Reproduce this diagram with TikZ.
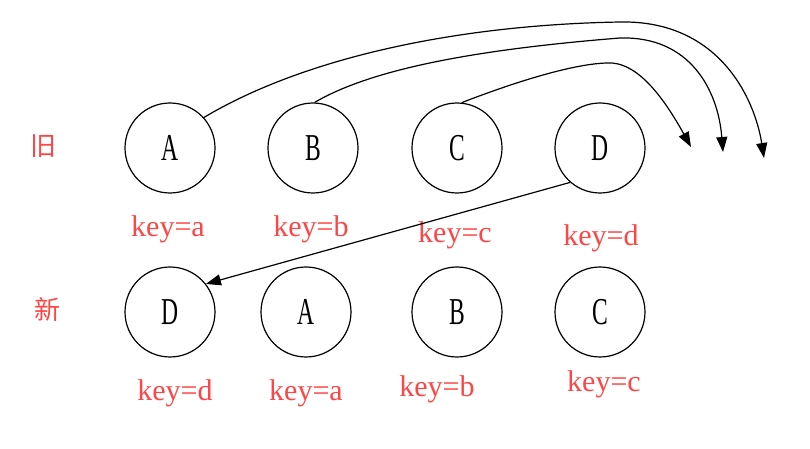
\documentclass[tikz,border=0pt]{standalone}
\usepackage{fontspec}
\setmainfont{Liberation Serif}
\newfontfamily\cjk{Noto Sans CJK SC}
\newfontfamily\narrowserif[FakeStretch=0.62]{Liberation Serif}
\usetikzlibrary{arrows.meta}
\definecolor{keyred}{HTML}{FF4545}

\begin{document}
\begin{tikzpicture}[x=0.5pt, y=-0.5pt, >={Triangle[length=7.5pt,width=5.5pt]},
  elem/.style={draw, circle, line width=0.6pt, minimum size=45pt, inner sep=0pt,
    font=\narrowserif\fontsize{19}{22}\selectfont},
  keylbl/.style={text=keyred, font=\fontsize{15}{18}\selectfont},
  rowlbl/.style={text=keyred, font=\cjk\fontsize{13}{16}\selectfont},
  link/.style={->, line width=0.6pt}]
  \useasboundingbox (0,0) rectangle (810,449);
  % old list
  \node[rowlbl] (old) at (44,146) {旧};
  \node[elem] (oA) at (170,148) {A};
  \node[elem] (oB) at (313,148) {B};
  \node[elem] (oC) at (457,148) {C};
  \node[elem] (oD) at (600,148) {D};
  \node[keylbl] (ka) at (168,229) {key=a};
  \node[keylbl] (kb) at (311,229) {key=b};
  \node[keylbl] (kc) at (455,235) {key=c};
  \node[keylbl] (kd) at (601,238) {key=d};
  % new list
  \node[rowlbl] (new) at (47,310) {新};
  \node[elem] (nD) at (170,312) {D};
  \node[elem] (nA) at (306,312) {A};
  \node[elem] (nB) at (457,312) {B};
  \node[elem] (nC) at (600,312) {C};
  \node[keylbl] (nkd) at (175,393) {key=d};
  \node[keylbl] (nka) at (306,393) {key=a};
  \node[keylbl] (nkb) at (437,389) {key=b};
  \node[keylbl] (nkc) at (604,384) {key=c};
  % moves
  \coordinate (endA) at (764,158);
  \coordinate (endB) at (723,152);
  \coordinate (endC) at (691,147);
  \draw[link] (oA.42) .. controls (300,60) and (450,25) .. (620,22)
    .. controls (720,20) and (755,100) .. (endA);
  \draw[link] (oB.88) .. controls (370,70) and (470,50) .. (620,38)
    .. controls (690,36) and (718,90) .. (endB);
  \draw[link] (oC.84) .. controls (520,80) and (580,62) .. (612,63)
    .. controls (640,65) and (665,100) .. (endC);
  \draw[link] (oD.229) -- (nD.38);
\end{tikzpicture}
\end{document}
